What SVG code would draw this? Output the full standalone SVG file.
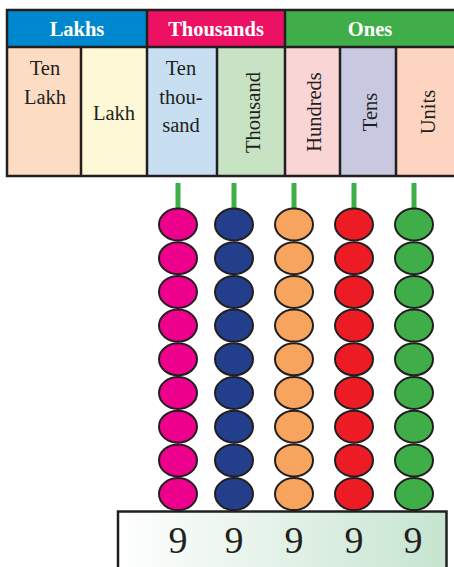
<svg xmlns="http://www.w3.org/2000/svg" width="454" height="567" viewBox="0 0 454 567">
  <defs>
    <linearGradient id="boxFill" x1="0" y1="0" x2="1" y2="0">
      <stop offset="0" stop-color="#ffffff"/>
      <stop offset="1" stop-color="#c6e4d0"/>
    </linearGradient>
    <style>
      .head { font-family: "Liberation Serif", "Times New Roman", serif; font-weight: bold; font-size: 20.5px; fill: #ffffff; text-anchor: middle; }
      .lbl { font-family: "Liberation Serif", "Times New Roman", serif; font-size: 20.5px; fill: #231f20; text-anchor: middle; }
      .digit { font-family: "Liberation Serif", "Times New Roman", serif; font-size: 38px; fill: #231f20; text-anchor: middle; }
      .grid { stroke: #231f20; stroke-width: 2.5; fill: none; }
      .rod { stroke: #3fae49; stroke-width: 5; }
      .bead { stroke: #231f20; stroke-width: 2; }
    </style>
    <ellipse id="b" cx="0" cy="0" rx="19" ry="16"/>
  </defs>

  <!-- place-value header -->
  <g id="table">
    <rect x="7" y="10" width="140" height="37" fill="#0088cf"/>
    <rect x="147" y="10" width="138" height="37" fill="#ed1164"/>
    <rect x="285" y="10" width="172" height="37" fill="#3fae49"/>
    <text class="head" x="77" y="35.5">Lakhs</text>
    <text class="head" x="216" y="35.5">Thousands</text>
    <text class="head" x="370" y="35.5">Ones</text>

    <rect x="7" y="47" width="74" height="129" fill="#fddcc4"/>
    <rect x="81" y="47" width="66" height="129" fill="#fef8d6"/>
    <rect x="147" y="47" width="70" height="129" fill="#c8dff2"/>
    <rect x="217" y="47" width="68" height="129" fill="#c8e2c4"/>
    <rect x="285" y="47" width="55" height="129" fill="#fad5d6"/>
    <rect x="340" y="47" width="56" height="129" fill="#c8c9e1"/>
    <rect x="396" y="47" width="61" height="129" fill="#fcd4c0"/>

    <path class="grid" d="M458 10 H7 V176 H458 M7 47 H458 M81 47 V176 M147 10 V176 M217 47 V176 M285 10 V176 M340 47 V176 M396 47 V176"/>

    <text class="lbl" x="45" y="75">Ten</text>
    <text class="lbl" x="45" y="104">Lakh</text>
    <text class="lbl" x="114" y="120">Lakh</text>
    <text class="lbl" x="181" y="75">Ten</text>
    <text class="lbl" x="181" y="104">thou-</text>
    <text class="lbl" x="181" y="132">sand</text>
    <text class="lbl" transform="translate(259.5 112.5) rotate(-90)">Thousand</text>
    <text class="lbl" transform="translate(321 112) rotate(-90)">Hundreds</text>
    <text class="lbl" transform="translate(376.5 112) rotate(-90)">Tens</text>
    <text class="lbl" transform="translate(434.5 112) rotate(-90)">Units</text>
  </g>

  <!-- rods -->
  <g id="connectors">
    <line class="rod" x1="178" y1="183" x2="178" y2="212"/>
    <line class="rod" x1="234" y1="183" x2="234" y2="212"/>
    <line class="rod" x1="294" y1="183" x2="294" y2="212"/>
    <line class="rod" x1="354" y1="183" x2="354" y2="212"/>
    <line class="rod" x1="414" y1="183" x2="414" y2="212"/>
  </g>

  <!-- bead columns: nine beads each -->
  <g id="beads-ten-thousand" class="bead" fill="#ec008c">
    <use href="#b" x="178" y="224.5"/><use href="#b" x="178" y="258.2"/><use href="#b" x="178" y="291.9"/>
    <use href="#b" x="178" y="325.6"/><use href="#b" x="178" y="359.3"/><use href="#b" x="178" y="393"/>
    <use href="#b" x="178" y="426.7"/><use href="#b" x="178" y="460.4"/><use href="#b" x="178" y="494.1"/>
  </g>
  <g id="beads-thousand" class="bead" fill="#233e8b">
    <use href="#b" x="234" y="224.5"/><use href="#b" x="234" y="258.2"/><use href="#b" x="234" y="291.9"/>
    <use href="#b" x="234" y="325.6"/><use href="#b" x="234" y="359.3"/><use href="#b" x="234" y="393"/>
    <use href="#b" x="234" y="426.7"/><use href="#b" x="234" y="460.4"/><use href="#b" x="234" y="494.1"/>
  </g>
  <g id="beads-hundreds" class="bead" fill="#f7a55e">
    <use href="#b" x="294" y="224.5"/><use href="#b" x="294" y="258.2"/><use href="#b" x="294" y="291.9"/>
    <use href="#b" x="294" y="325.6"/><use href="#b" x="294" y="359.3"/><use href="#b" x="294" y="393"/>
    <use href="#b" x="294" y="426.7"/><use href="#b" x="294" y="460.4"/><use href="#b" x="294" y="494.1"/>
  </g>
  <g id="beads-tens" class="bead" fill="#ed1c24">
    <use href="#b" x="354" y="224.5"/><use href="#b" x="354" y="258.2"/><use href="#b" x="354" y="291.9"/>
    <use href="#b" x="354" y="325.6"/><use href="#b" x="354" y="359.3"/><use href="#b" x="354" y="393"/>
    <use href="#b" x="354" y="426.7"/><use href="#b" x="354" y="460.4"/><use href="#b" x="354" y="494.1"/>
  </g>
  <g id="beads-units" class="bead" fill="#3fae49">
    <use href="#b" x="414" y="224.5"/><use href="#b" x="414" y="258.2"/><use href="#b" x="414" y="291.9"/>
    <use href="#b" x="414" y="325.6"/><use href="#b" x="414" y="359.3"/><use href="#b" x="414" y="393"/>
    <use href="#b" x="414" y="426.7"/><use href="#b" x="414" y="460.4"/><use href="#b" x="414" y="494.1"/>
  </g>

  <!-- number box -->
  <g id="number-box">
    <rect x="118" y="511.5" width="328.5" height="70" fill="url(#boxFill)" stroke="#231f20" stroke-width="2.5"/>
    <text class="digit" x="178" y="553">9</text>
    <text class="digit" x="234" y="553">9</text>
    <text class="digit" x="294" y="553">9</text>
    <text class="digit" x="354" y="553">9</text>
    <text class="digit" x="413" y="553">9</text>
  </g>
</svg>
